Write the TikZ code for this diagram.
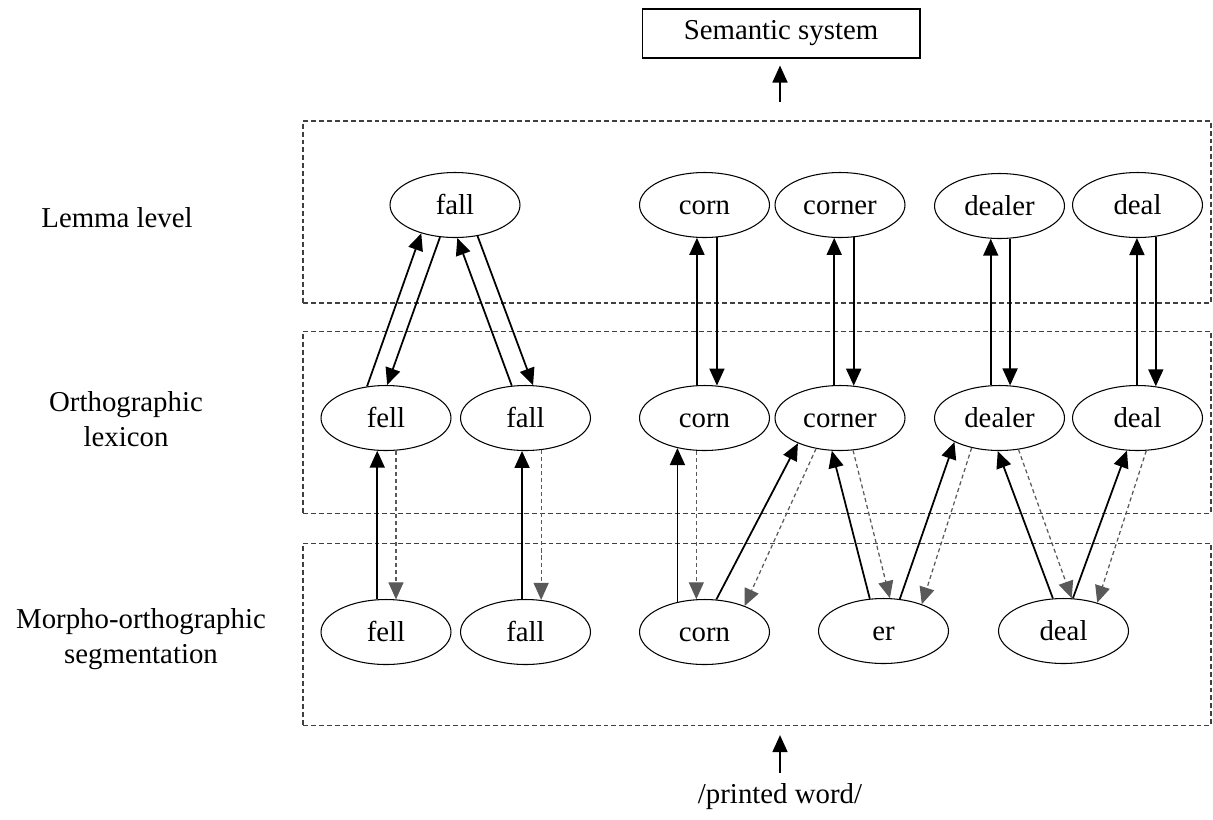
\documentclass[tikz,border=0pt]{standalone}
\usepackage{fontspec}
\setmainfont{Liberation Serif}
\usetikzlibrary{arrows.meta, shapes.geometric}

\begin{document}
\begin{tikzpicture}[x=0.02cm, y=-0.02cm,
  >={Triangle[length=0.34cm,width=0.3cm]},
  font=\fontsize{16.4}{19.9}\selectfont,
  word/.style={ellipse, draw, line width=0.6pt, minimum width=2.6cm,
    minimum height=1.3cm, inner sep=0pt, text height=14pt, text depth=3pt},
  levelbox/.style={draw=black!75, dash pattern=on 2.8pt off 1.7pt,
    line width=0.7pt, minimum width=18.16cm, minimum height=3.64cm},
  levelname/.style={align=center},
  fwd/.style={->, line width=1pt},
  fb/.style={->, black!65, dash pattern=on 2.3pt off 1.7pt, line width=0.7pt}]

\useasboundingbox (0,0) rectangle (1213,819);

% define the levels
  \node[levelbox] (lemma)  at (757,212)   {};
  \node[levelbox] (ortho)  at (757,422.5) {};
  \node[levelbox] (morpho) at (757,634.5) {};

  \node[levelname] (lemmaname)  at (117,218) {Lemma level};
  \node[levelname] (orthoname)  at (126,419) {Orthographic\\lexicon};
  \node[levelname] (morphoname) at (141,639) {Morpho-orthographic\\segmentation};

  \node[draw, line width=0.6pt, minimum width=5.56cm, minimum height=0.98cm]
    (sem) at (781,33.5) {Semantic system};
  \node (word) at (780,797) {/printed word/};
  \coordinate (semin) at (780,102);
  \coordinate (wordout) at (780,773);

% define the words
  \node[word] (lfall)   at (455,205)    {fall};
  \node[word] (lcorn)   at (704.5,205)  {corn};
  \node[word] (lcorner) at (840,205)    {corner};
  \node[word] (ldealer) at (999.5,206)  {dealer};
  \node[word] (ldeal)   at (1137.5,205) {deal};

  \node[word] (ofell)   at (386,418)    {fell};
  \node[word] (ofall)   at (525.5,418)  {fall};
  \node[word] (ocorn)   at (704.5,418)  {corn};
  \node[word] (ocorner) at (840,418)    {corner};
  \node[word] (odealer) at (999.5,418)  {dealer};
  \node[word] (odeal)   at (1137.5,418) {deal};

  \node[word] (mfell)   at (386,632)    {fell};
  \node[word] (mfall)   at (525.5,632)  {fall};
  \node[word] (mcorn)   at (704.5,632)  {corn};
  \node[word] (mer)     at (883.5,631)  {er};
  \node[word] (mdeal)   at (1063.5,631) {deal};

% define the links
  \path[fwd] (semin) edge [shorten >=0.14cm] (sem.south -| semin)
        (wordout) edge [shorten >=0.18cm] (morpho.south -| wordout);

  \path[fwd] (ofell.121) edge (lfall.220)
        (lfall.245) edge (ofell.88)
        (ofall.113) edge (lfall.274)
        (lfall.306) edge (ofall.77)
        (ocorn.103) edge (lcorn.257)
        (lcorn.291) edge (ocorn.69)
        (ocorner.100) edge (lcorner.260)
        (lcorner.293) edge (ocorner.67)
        (odealer.105) edge (ldealer.255)
        (ldealer.288) edge (odealer.72)
        (odeal.91) edge (ldeal.269)
        (ldeal.300) edge (odeal.60);

  \path[fwd] (mfell.105) edge (ofell.255)
        (mfall.96) edge (ofall.264)
        (mcorn.132) edge (ocorn.228)
        (mcorn.70) edge (ocorner.211)
        (mer.113) edge (ocorner.256)
        (mer.63) edge (odealer.208)
        (mdeal.108) edge (odealer.267)
        (mdeal.74) edge (odeal.252);

  \path[fb] (ofell.287) edge (mfell.73)
        (ofall.296) edge (mfall.64)
        (ocorn.256) edge (mcorn.104)
        (ocorner.232) edge (mcorn.33)
        (ocorner.292) edge (mer.79)
        (odealer.227) edge (mer.35)
        (odealer.301) edge (mdeal.76)
        (odeal.285) edge (mdeal.40);

\end{tikzpicture}
\end{document}
